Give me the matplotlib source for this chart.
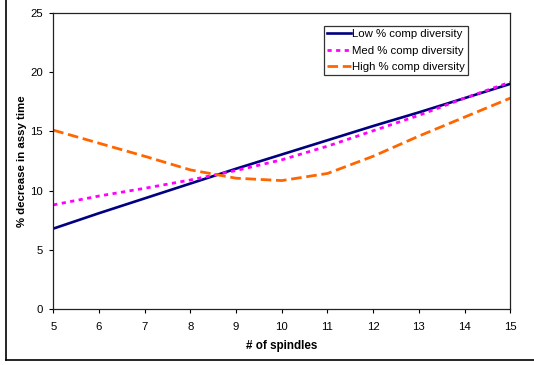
import os
import matplotlib.pyplot as plt
from matplotlib import font_manager
from matplotlib.lines import Line2D

# pick the regular (not narrow) Liberation Sans
sans_name = "Liberation Sans"
for f in font_manager.fontManager.ttflist:
    if os.path.basename(f.fname).startswith("LiberationSans-"):
        sans_name = f.name
        break
plt.rcParams['font.family'] = [sans_name, 'DejaVu Sans']

# data
spindles = [5, 6, 7, 8, 9, 10, 11, 12, 13, 14, 15]
low_div = [6.8, 8.1, 9.35, 10.6, 11.85, 13.05, 14.25, 15.45, 16.6, 17.8, 19.0]
med_div = [8.8, 9.55, 10.2, 10.9, 11.7, 12.6, 13.75, 15.05, 16.35, 17.8, 19.15]
high_div = [15.1, 14.0, 12.9, 11.75, 11.05, 10.85, 11.45, 12.9, 14.6, 16.2, 17.8]

series_labels = ["Low % comp diversity", "Med % comp diversity", "High % comp diversity"]

fig = plt.figure(figsize=(5.34, 3.65), dpi=100)
ax = fig.add_axes([0.0998, 0.1526, 0.8558, 0.8126])

ax.plot(spindles, low_div, color="#000080", lw=1.9, label=series_labels[0])
ax.plot(spindles, med_div, color="#FF00FF", lw=2.0, dashes=(1.5, 1.6), label=series_labels[1])
ax.plot(spindles, high_div, color="#FF6600", lw=2.0, dashes=(3.8, 1.7), label=series_labels[2])

ax.set_xlim(5, 15)
ax.set_ylim(0, 25)
ax.set_xticks(range(5, 16))
ax.set_yticks(range(0, 26, 5))
ax.tick_params(direction="out", length=3, width=0.8, labelsize=8.2)
ax.tick_params(axis="x", pad=6)
ax.tick_params(axis="y", pad=4.5)
for s in ax.spines.values():
    s.set_linewidth(0.9)
    s.set_color("#222222")

ax.set_xlabel("# of spindles", fontsize=8.4, fontweight="bold", labelpad=6)
ax.set_ylabel("% decrease in assy time", fontsize=8.2, fontweight="bold", labelpad=2)

leg = ax.legend(loc="upper left", bbox_to_anchor=(0.592, 0.955), fontsize=8.2,
                frameon=True, fancybox=False, edgecolor="black", borderpad=0.25,
                handlelength=2.1, handletextpad=0.15, labelspacing=0.58, borderaxespad=0)
leg.get_frame().set_linewidth(0.9)

# outer chart border (left and bottom visible)
fig.add_artist(Line2D([5.7 / 534, 5.7 / 534], [1.0, 5 / 365], color="black", lw=1.2))
fig.add_artist(Line2D([5.7 / 534, 1.0], [5 / 365, 5 / 365], color="black", lw=1.2))

fig.savefig("out.png", dpi=100)
